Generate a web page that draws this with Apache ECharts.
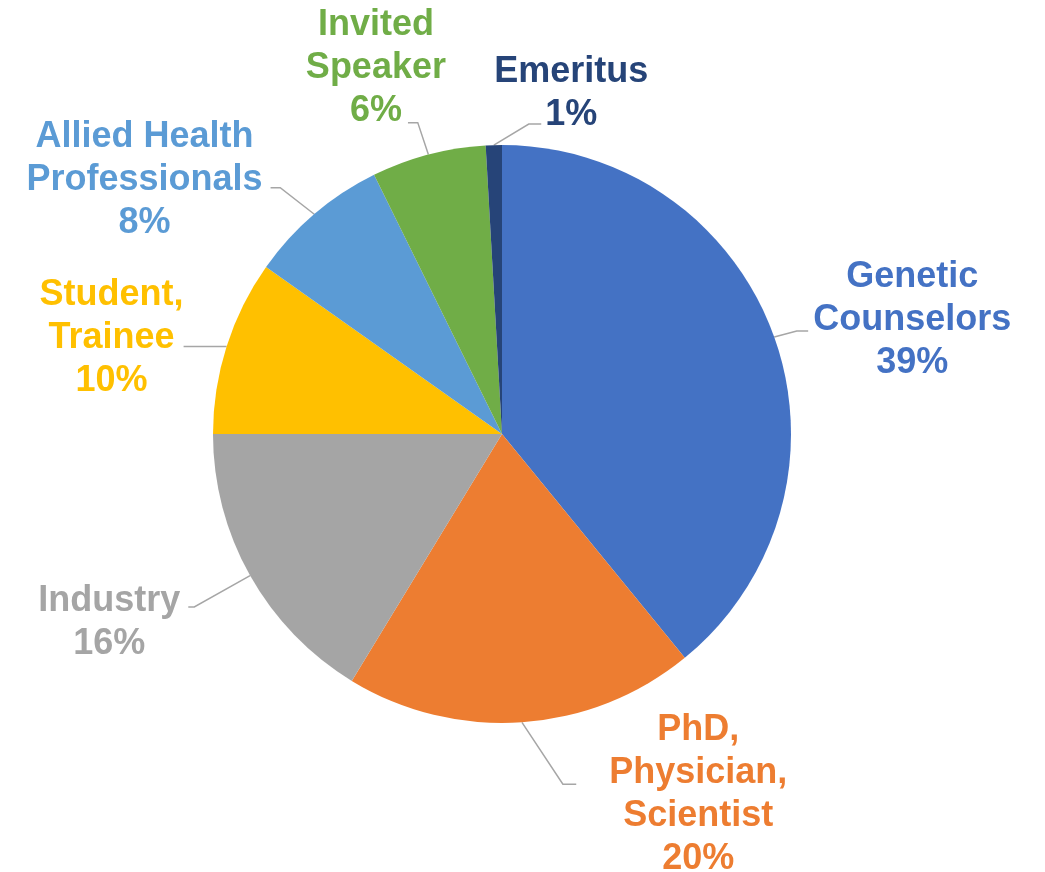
<!DOCTYPE html>
<html>
<head>
<meta charset="utf-8">
<script src="https://cdn.jsdelivr.net/npm/echarts@6/dist/echarts.min.js"></script>
<style>
html,body{margin:0;padding:0;background:#fff;}
#chart{width:1045px;height:872px;}
</style>
</head>
<body>
<div id="chart"></div>
<script>
// ---- data ----
const categories = ['Genetic\nCounselors', 'PhD,\nPhysician,\nScientist', 'Industry', 'Student,\nTrainee', 'Allied Health\nProfessionals', 'Invited\nSpeaker', 'Emeritus'];
const values = [39.1, 19.6, 16.3, 9.8, 7.9, 6.4, 0.9];

// ---- styles (per slice) ----
const colors = ['#4472C4', '#ED7D31', '#A5A5A5', '#FFC000', '#5B9BD5', '#70AD47', '#264478'];
const lineLen = [18, 62, 64, 0, 35, 33, 21];
const lineLen2 = [17, 50, 6, 43, 21, 12, -48];
const turnAngle = [165, 123.5, 90, 90, 142, 108.4, 149];
const labelDist = [5, 5, 5, 0, 5, -38, -107];
const labelPad = [
  [0, 0, 22, 0],
  [20, 0, 0, 28],
  [32, 3, 0, 0],
  [0, 0, 17, 0],
  [0, 3, 16, 0],
  [0, 0, 109, 0],
  [0, 0, 61, 0]
];

const FONT = '"Liberation Sans", Arial, sans-serif';

const data = categories.map((name, i) => ({
  name: name,
  value: values[i],
  itemStyle: { color: colors[i] },
  label: {
    color: colors[i],
    padding: labelPad[i],
    distanceToLabelLine: labelDist[i],
    rich: {
      a: { color: colors[i], align: 'center', fontSize: 36, fontWeight: 'bold', lineHeight: 43, fontFamily: FONT }
    }
  },
  labelLine: { length: lineLen[i], length2: lineLen2[i], minTurnAngle: turnAngle[i] }
}));

const chart = echarts.init(document.getElementById('chart'), null, { renderer: 'canvas' });
chart.setOption({
  animation: false,
  backgroundColor: '#ffffff',
  series: [{
    type: 'pie',
    center: [502, 434],
    radius: [0, 289],
    startAngle: 90,
    clockwise: true,
    avoidLabelOverlap: false,
    emphasis: { disabled: true },
    itemStyle: { borderWidth: 0 },
    label: {
      show: true,
      position: 'outside',
      fontFamily: FONT,
      fontSize: 36,
      fontWeight: 'bold',
      lineHeight: 43,
      formatter: function (p) {
        const lines = p.name.split('\n');
        lines.push(Math.round(p.percent) + '%');
        return lines.map(l => '{a|' + l + '}').join('\n');
      }
    },
    labelLine: {
      show: true,
      smooth: false,
      maxSurfaceAngle: 180,
      lineStyle: { color: '#A6A6A6', width: 1.5 }
    },
    data: data
  }]
});
</script>
</body>
</html>
